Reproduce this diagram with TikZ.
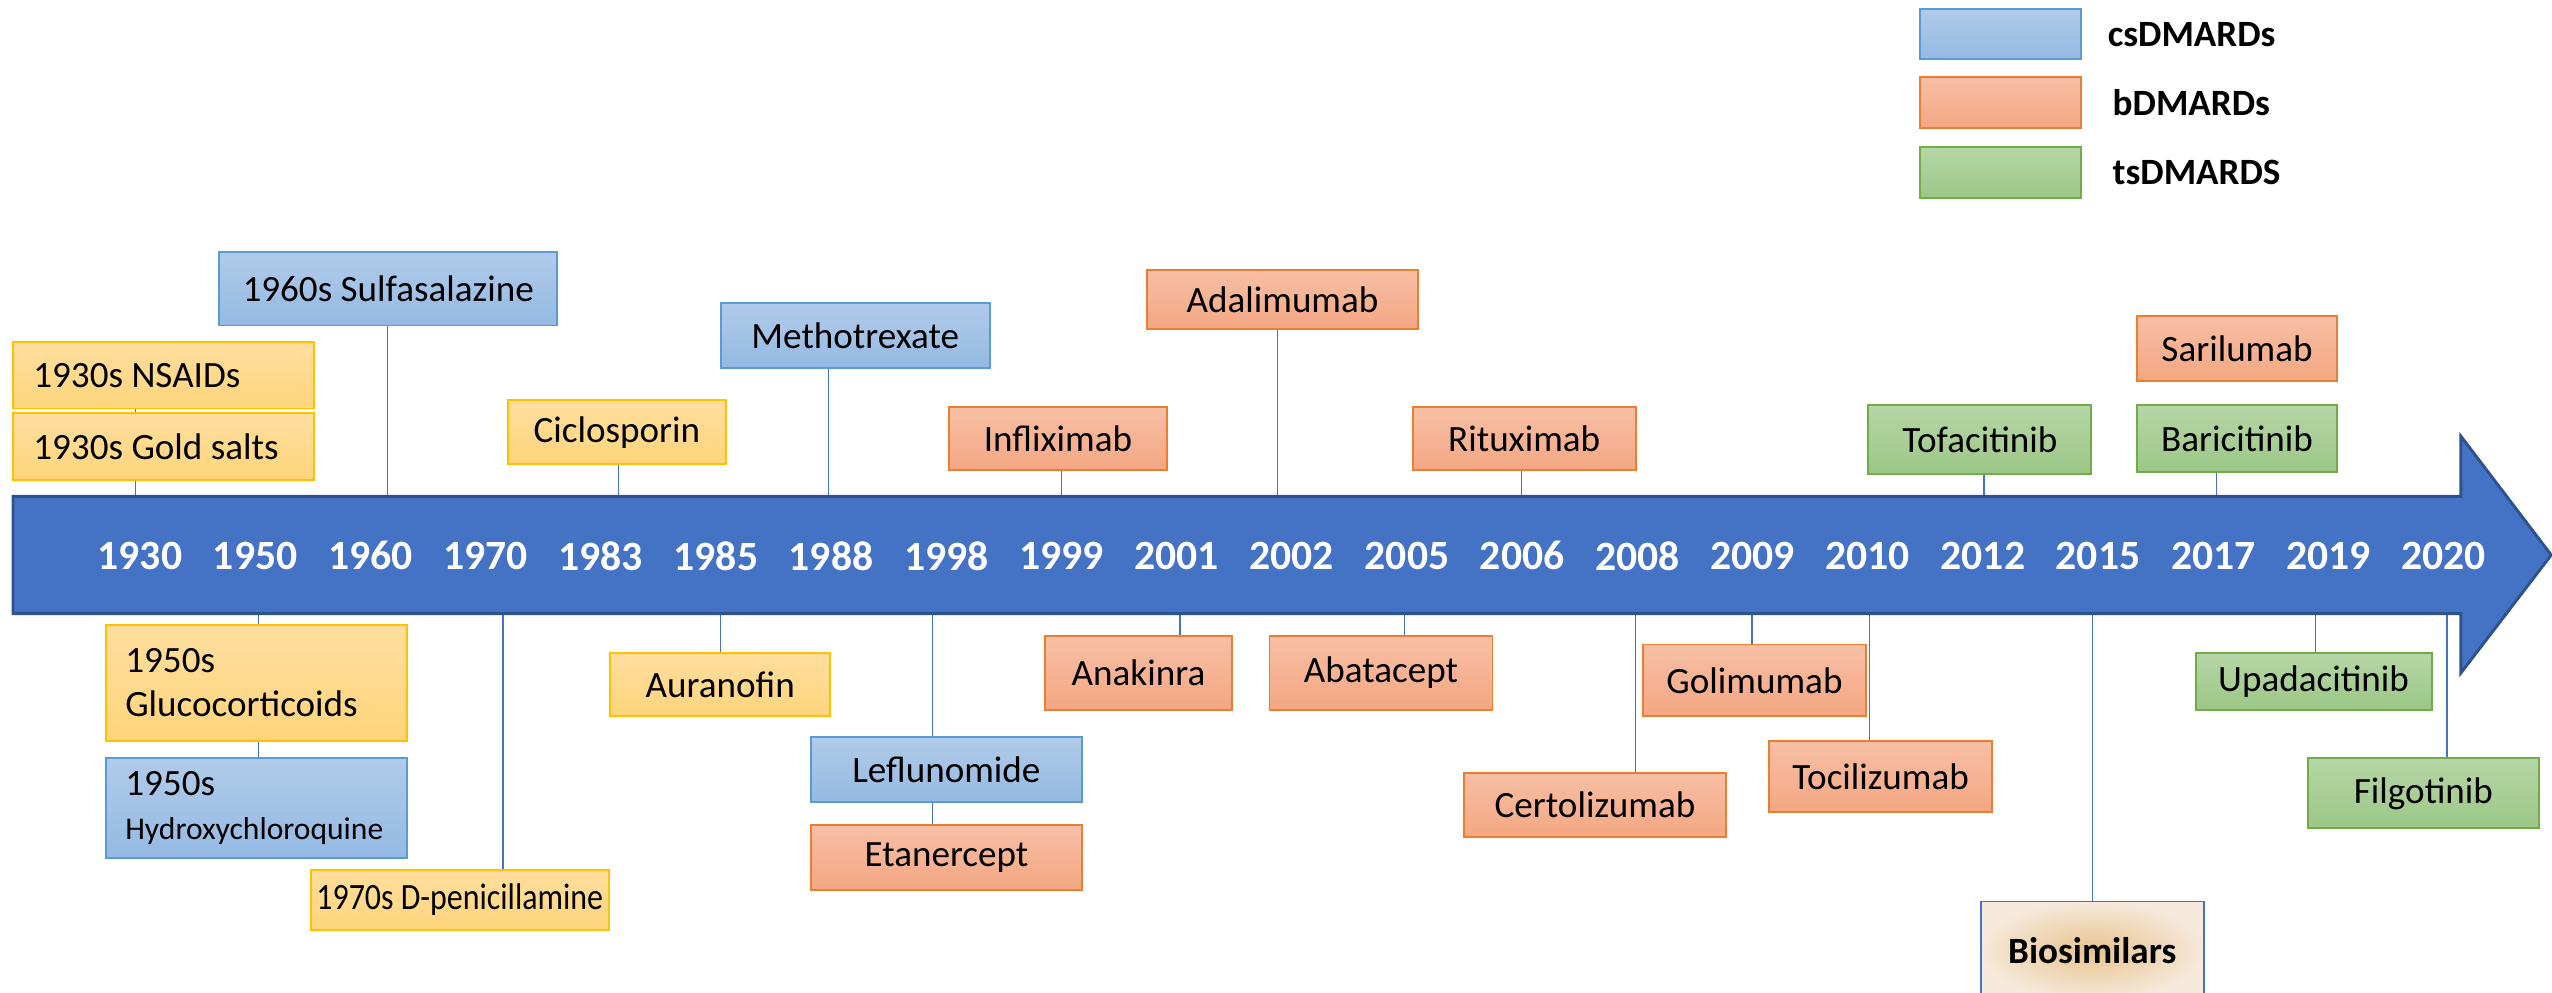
\documentclass[tikz,border=0pt]{standalone}
\usepackage{fontspec}
\setmainfont{Carlito}
\usetikzlibrary{backgrounds}

\definecolor{axisblue}{HTML}{4472C4}
\definecolor{axisedge}{HTML}{2F528F}
\definecolor{csTop}{HTML}{B1CBE9}
\definecolor{csBot}{HTML}{94B9E3}
\definecolor{csEdge}{HTML}{5B9BD5}
\definecolor{bTop}{HTML}{F7BFA5}
\definecolor{bBot}{HTML}{F4A782}
\definecolor{bEdge}{HTML}{ED7D31}
\definecolor{cTop}{HTML}{FFDE9E}
\definecolor{cBot}{HTML}{FFD47C}
\definecolor{cEdge}{HTML}{FFC000}
\definecolor{tsTop}{HTML}{B6D6A6}
\definecolor{tsBot}{HTML}{9CC787}
\definecolor{tsEdge}{HTML}{70AD47}
\definecolor{bioIn}{HTML}{E8C48E}
\definecolor{bioOut}{HTML}{F6E8DA}

\tikzset{
  drug/.style={rectangle, inner sep=0pt, line width=0.6pt,
    font=\fontsize{11.4}{13.5}\selectfont},
  wh/.style 2 args={minimum width=#1, minimum height=#2},
  csbox/.style={drug, draw=csEdge, top color=csTop, bottom color=csBot},
  bbox/.style={drug, draw=bEdge, top color=bTop, bottom color=bBot},
  cbox/.style={drug, draw=cEdge, top color=cTop, bottom color=cBot},
  tsbox/.style={drug, draw=tsEdge, top color=tsTop, bottom color=tsBot},
  biobox/.style={drug, draw=axisblue, line width=0.5pt, inner color=bioIn,
    outer color=bioOut, font=\bfseries\fontsize{11.4}{13.5}\selectfont},
  leftbox/.style={align=flush left, inner xsep=6.25pt, text width=80pt},
  year/.style={text=white, font=\bfseries\fontsize{12.8}{15}\selectfont},
  stem/.style={draw=axisblue, line width=0.4pt},
  legtext/.style={anchor=west, font=\bfseries\fontsize{11.4}{13.5}\selectfont},
}

\begin{document}
\begin{tikzpicture}[x=0.5pt, y=-0.5pt]
  \useasboundingbox (0,0) rectangle (1568,610);
  \clip (0,0) rectangle (1568,610);

  % timeline arrow
  \draw[fill=axisblue, draw=axisedge, line width=0.9pt]
    (8,305) -- (1512,305) -- (1512,268) -- (1567.5,341)
    -- (1512,413.5) -- (1512,377) -- (8,377) -- cycle;
  \coordinate (axisT) at (0,305);
  \coordinate (axisB) at (0,377);

  \foreach \yr [count=\i from 0] in {1930,1950,1960,1970,1983,1985,1988,
      1998,1999,2001,2002,2005,2006,2008,2009,2010,2012,2015,2017,2019,2020}
    \node[year] (y\yr) at ({86+70.77*\i},341.5) {\yr};

  % legend
  \node[csbox, wh={49.3pt}{15.5pt}] (legcs) at (1229,21) {};
  \node[bbox, wh={49.3pt}{15.5pt}] (legb) at (1229,63) {};
  \node[tsbox, wh={49.3pt}{15.5pt}] (legts) at (1229,106) {};
  \node[legtext] (legcstext) at (1288,21) {csDMARDs};
  \node[legtext] (legbtext) at (1291,63) {bDMARDs};
  \node[legtext] (legtstext) at (1291,106) {tsDMARDS};

  % above the timeline
  \node[csbox, wh={104pt}{22.5pt}] (sulfa) at (238.5,177.5) {1960s Sulfasalazine};
  \node[cbox, wh={92.5pt}{20.5pt}, leftbox] (nsaid) at (100.5,230.5) {1930s NSAIDs};
  \node[cbox, wh={92.5pt}{20.5pt}, leftbox] (gold) at (100.5,274.5) {1930s Gold salts};
  \node[cbox, wh={67pt}{19.5pt}] (cyclo) at (379,265.5) {Ciclosporin};
  \node[csbox, wh={82.5pt}{20pt}] (mtx) at (525.5,206) {Methotrexate};
  \node[bbox, wh={67pt}{19.5pt}] (inflix) at (650,269.5) {Infliximab};
  \node[bbox, wh={83pt}{18pt}] (adali) at (788,184) {Adalimumab};
  \node[bbox, wh={68.5pt}{19.5pt}] (ritux) at (936.5,269.5) {Rituximab};
  \node[tsbox, wh={68.5pt}{21pt}] (tofa) at (1216.5,270) {Tofacitinib};
  \node[bbox, wh={61.5pt}{20pt}] (sari) at (1374.5,214) {Sarilumab};
  \node[tsbox, wh={61.5pt}{20.5pt}] (bari) at (1374.5,269.5) {Baricitinib};

  % below the timeline
  \node[cbox, wh={92.5pt}{35.5pt}, align=flush left, inner xsep=6pt, text width=80.5pt]
    (gluco) at (157.5,419.5) {1950s\\Glucocorticoids};
  \node[csbox, wh={92.5pt}{30.5pt}, align=flush left, inner xsep=6pt, text width=80.5pt]
    (hcq) at (157.5,496.5) {1950s\\{\fontsize{9.7}{13.5}\selectfont Hydroxychloroquine}};
  \node[cbox, wh={91.5pt}{18.5pt}] (dpen) at (282.5,553)
    {\scalebox{0.86}[1]{1970s D-penicillamine}};
  \node[cbox, wh={67.5pt}{19.5pt}] (aura) at (442.5,420.5) {Auranofin};
  \node[csbox, wh={83.5pt}{20pt}] (leflu) at (581.5,473) {Leflunomide};
  \node[bbox, wh={83.5pt}{20pt}] (etan) at (581.5,527) {Etanercept};
  \node[bbox, wh={57.5pt}{22.5pt}] (anak) at (699.5,413.5) {Anakinra};
  \node[bbox, wh={68.5pt}{22.5pt}] (abat) at (848.5,413.5) {Abatacept};
  \node[bbox, wh={80.5pt}{19.5pt}] (certo) at (980,494.5) {Certolizumab};
  \node[bbox, wh={68.5pt}{22pt}] (goli) at (1078,418) {Golimumab};
  \node[bbox, wh={68.5pt}{22pt}] (toci) at (1155.5,477) {Tocilizumab};
  \node[biobox, wh={68.5pt}{30pt}] (bio) at (1285.5,584) {Biosimilars};
  \node[tsbox, wh={72.5pt}{17.5pt}] (upa) at (1421.5,418.5) {Upadacitinib};
  \node[tsbox, wh={71pt}{21.5pt}] (filgo) at (1489,487.5) {Filgotinib};

  % stems to the timeline
  \begin{scope}[on background layer]
    \foreach \b/\x in {nsaid/83.4, sulfa/238, cyclo/380, mtx/509, inflix/652,
        adali/785, ritux/935, tofa/1219, bari/1362}
      \draw[stem] (\x,0 |- \b.south) -- (\x,0 |- axisT);
    \foreach \b/\x in {hcq/158.7, dpen/309, aura/442.6, etan/573, anak/725,
        abat/863, certo/1005, goli/1076.5, toci/1148.5, bio/1285.5,
        upa/1422.5, filgo/1503.5}
      \draw[stem] (\x,0 |- \b.north) -- (\x,0 |- axisB);
  \end{scope}
\end{tikzpicture}
\end{document}
